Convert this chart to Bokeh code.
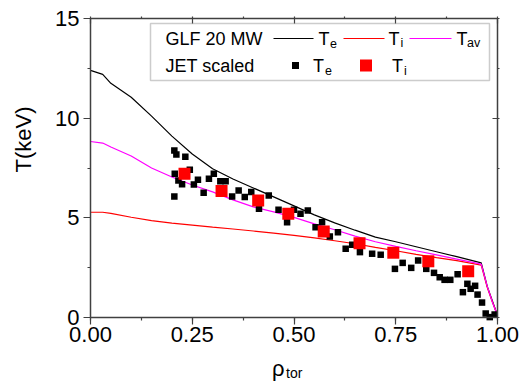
import math
from bokeh.plotting import figure
from bokeh.models import (Range1d, LinearAxis, SingleIntervalTicker, PrintfTickFormatter,
                          CustomJSTickFormatter, Label, BoxAnnotation)
from bokeh.embed import file_html
from bokeh.resources import INLINE

# ---------------- data ----------------
rho_glf = [0.0, 0.03, 0.05, 0.1, 0.15, 0.2, 0.25, 0.3, 0.35, 0.4, 0.45, 0.5, 0.55, 0.6,
           0.65, 0.7, 0.75, 0.8, 0.85, 0.9, 0.96, 0.975, 0.987, 1.0]
te_glf = [12.4, 12.2, 11.75, 11.05, 10.1, 9.1, 8.2, 7.46, 6.95, 6.5, 6.05, 5.6, 5.15, 4.75,
          4.38, 4.03, 3.8, 3.55, 3.3, 3.05, 2.74, 1.55, 0.85, 0.1]
ti_glf = [5.28, 5.28, 5.22, 5.03, 4.86, 4.73, 4.63, 4.53, 4.44, 4.34, 4.23, 4.12, 3.99, 3.85,
          3.7, 3.52, 3.35, 3.17, 3.0, 2.85, 2.63, 1.5, 0.8, 0.1]
tav_glf = [8.83, 8.75, 8.55, 8.1, 7.5, 7.05, 6.65, 6.3, 5.9, 5.55, 5.3, 5.02, 4.7, 4.4,
           4.08, 3.8, 3.57, 3.35, 3.14, 2.93, 2.68, 1.55, 0.8, 0.1]

rho_jet_te = [0.206, 0.211, 0.233, 0.244, 0.207, 0.216, 0.225, 0.254, 0.264, 0.206, 0.278,
              0.291, 0.303, 0.319, 0.332, 0.348, 0.364, 0.379, 0.395, 0.438, 0.414, 0.462,
              0.483, 0.500, 0.516, 0.534, 0.553, 0.569, 0.588, 0.608, 0.627, 0.643, 0.662,
              0.692, 0.713, 0.748, 0.767, 0.788, 0.805, 0.825, 0.844, 0.858, 0.870, 0.884,
              0.902, 0.926, 0.934, 0.945, 0.915, 0.951, 0.962, 0.971, 0.981, 0.993]
te_jet = [8.38, 8.18, 8.06, 7.41, 7.21, 6.87, 6.68, 6.67, 6.91, 6.07, 6.26,
          6.96, 7.21, 6.84, 6.84, 6.07, 6.37, 6.04, 6.29, 6.12, 5.45, 5.40,
          4.78, 5.40, 5.20, 5.37, 4.53, 4.78, 4.06, 4.28, 3.45, 3.65, 3.28,
          3.20, 3.15, 2.44, 2.74, 2.49, 2.86, 2.44, 2.24, 2.02, 1.89, 1.89,
          2.17, 1.69, 1.44, 1.59, 1.27, 1.15, 0.75, 0.20, 0.02, 0.15]

rho_jet_ti = [0.231, 0.322, 0.412, 0.486, 0.573, 0.661, 0.744, 0.830, 0.928]
ti_jet = [7.21, 6.34, 5.87, 5.20, 4.31, 3.73, 3.25, 2.82, 2.32]

x_ticks_interval = 0.25
y_ticks_interval = 5

# ---------------- geometry (canvas pixels) ----------------
W, H = 520, 385
X0, X1, Y0, Y1 = 0.0, 1.0, 0.0, 15.0
DL, DR, DT, DB = 90, 497, 18, 317       # data box in canvas pixels
ux = (X1 - X0) / (DR - DL)
uy = (Y1 - Y0) / (DB - DT)
xs, xe = X0 - DL * ux, X1 + (W - DR) * ux
ys, ye = Y0 - (H - DB) * uy, Y1 + DT * uy


def dx(px):
    return X0 + (px - DL) * ux


def dy(py):
    return Y0 + (DB - py) * uy


FONT = "Liberation Sans"
AX = "#404040"

p = figure(width=W, height=H, output_backend="svg", toolbar_location=None,
           x_range=Range1d(xs, xe), y_range=Range1d(ys, ye),
           min_border=0, x_axis_location=None, y_axis_location=None)
p.outline_line_color = None
p.xgrid.visible = False
p.ygrid.visible = False
p.background_fill_color = "white"
p.border_fill_color = "white"


def make_axis(ticker, loc, bounds, labels=True, outward=True):
    ax = LinearAxis(ticker=ticker, fixed_location=loc, bounds=bounds)
    ax.axis_line_color = AX
    ax.axis_line_width = 1.5
    ax.major_tick_line_color = AX
    ax.minor_tick_line_color = AX
    ax.major_tick_line_width = 1.2
    ax.minor_tick_line_width = 1.2
    if outward:
        ax.major_tick_out = 7
        ax.major_tick_in = 0
        ax.minor_tick_out = 3
        ax.minor_tick_in = 0
    else:
        ax.major_tick_out = 0
        ax.major_tick_in = 5
        ax.minor_tick_out = 2
        ax.minor_tick_in = 0
    ax.major_label_text_font = FONT
    ax.major_label_text_font_size = "22px"
    ax.major_label_text_color = "black"
    if not labels:
        ax.formatter = CustomJSTickFormatter(code="return ''")
        ax.major_label_standoff = 0
        ax.major_label_text_font_size = "1px"
    return ax


xb = make_axis(SingleIntervalTicker(interval=x_ticks_interval, num_minor_ticks=2), Y0, (X0, X1))
xb.formatter = PrintfTickFormatter(format="%.2f")
xb.major_label_standoff = 2
p.add_layout(xb, "below")

yl = make_axis(SingleIntervalTicker(interval=y_ticks_interval, num_minor_ticks=2), X0, (Y0, Y1))
yl.major_label_standoff = 4
p.add_layout(yl, "left")

xt = make_axis(SingleIntervalTicker(interval=x_ticks_interval, num_minor_ticks=2), Y1, (X0, X1),
               labels=False, outward=False)
p.add_layout(xt, "above")

yr = make_axis(SingleIntervalTicker(interval=y_ticks_interval, num_minor_ticks=2), X1, (Y0, Y1),
               labels=False, outward=False)
p.add_layout(yr, "right")

# ---------------- curves & points ----------------
p.line(rho_glf, te_glf, line_color="black", line_width=1.2)
p.line(rho_glf, ti_glf, line_color="#ff0000", line_width=1.2)
p.line(rho_glf, tav_glf, line_color="#ff00ff", line_width=1.2)
p.scatter(rho_jet_te, te_jet, marker="square", size=6.5, fill_color="black", line_color=None)
p.scatter(rho_jet_ti, ti_jet, marker="square", size=12, fill_color="#ff0000", line_color=None)

# ---------------- legend (drawn by hand) ----------------
box = BoxAnnotation(left=dx(150), right=dx(489), top=dy(23), bottom=dy(80),
                    fill_alpha=0, line_color="#555555", line_width=1.5)
p.add_layout(box)

LF = "18px"
SF = "12.5px"
SHIFT = 6   # text baseline correction


def txt(px, py, s, size=LF, **kw):
    lab = Label(x=dx(px), y=dy(py - SHIFT), text=s, text_font=FONT, text_font_size=size,
                text_color="black", text_baseline="alphabetic", text_align="left", **kw)
    p.add_layout(lab)


r1, r2 = 44, 71.5
txt(165, r1, "GLF 20 MW")
txt(165, r2, "JET scaled")

p.line([dx(273), dx(313)], [dy(38), dy(38)], line_color="black", line_width=1.2)
txt(318, r1, "T"); txt(329.5, r1 + 4.5, "e", SF)
p.line([dx(343), dx(384)], [dy(38), dy(38)], line_color="#ff0000", line_width=1.2)
txt(388, r1, "T"); txt(400, r1 + 4.5, "i", SF)
p.line([dx(409), dx(451)], [dy(38), dy(38)], line_color="#ff00ff", line_width=1.2)
txt(456, r1, "T"); txt(466.5, r1 + 4.5, "av", SF)

p.scatter([dx(295)], [dy(65)], marker="square", size=7, fill_color="black", line_color=None)
txt(312.5, r2, "T"); txt(324.5, r2 + 4.5, "e", SF)
p.scatter([dx(365.5)], [dy(65)], marker="square", size=12, fill_color="#ff0000", line_color=None)
txt(391.5, r2, "T"); txt(403.5, r2 + 4.5, "i", SF)

# ---------------- axis titles ----------------
p.add_layout(Label(x=dx(22.5), y=dy(139), text="T(keV)", angle=math.pi / 2,
                   text_font=FONT, text_font_size="22px", text_color="black",
                   text_align="center", text_baseline="middle"))
txt(271.5, 374, "ρ", "22px")
txt(285.5, 378, "tor", "14px")

open("out.html", "w").write(file_html(p, INLINE))
